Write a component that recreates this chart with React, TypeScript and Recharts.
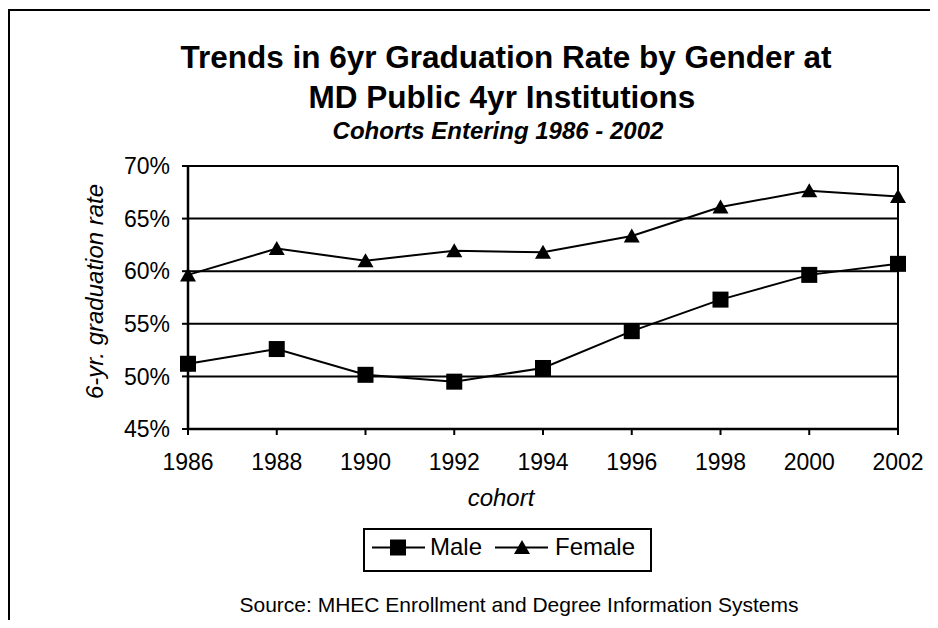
import React from 'react';
import { LineChart, Line, XAxis, YAxis, CartesianGrid, ReferenceLine, Legend, Label } from 'recharts';

const years = [1986, 1988, 1990, 1992, 1994, 1996, 1998, 2000, 2002];
const maleRates = [51.2, 52.6, 50.15, 49.5, 50.8, 54.3, 57.3, 59.65, 60.7];
const femaleRates = [59.65, 62.15, 61.0, 61.95, 61.8, 63.35, 66.1, 67.65, 67.1];
const yTicks = [45, 50, 55, 60, 65, 70];

const data = years.map((year, i) => ({ year, male: maleRates[i], female: femaleRates[i] }));

const FONT = '"Liberation Sans", Arial, Helvetica, sans-serif';

const SquareDot = (props: any) => {
  const { cx, cy, index } = props;
  if (cx == null || cy == null) return <g key={`s${index}`} />;
  return <rect key={`s${index}`} x={cx - 8} y={cy - 8} width={16} height={16} fill="#000" />;
};

const TriangleDot = (props: any) => {
  const { cx, cy, index } = props;
  if (cx == null || cy == null) return <g key={`t${index}`} />;
  return (
    <polygon
      key={`t${index}`}
      points={`${cx},${cy - 7.5} ${cx - 8},${cy + 6.5} ${cx + 8},${cy + 6.5}`}
      fill="#000"
    />
  );
};

const LegendBox = () => (
  <svg width={289} height={44} style={{ display: 'block' }}>
    <rect x={1} y={1} width={287} height={42} fill="#fff" stroke="#000" strokeWidth={2} />
    <line x1={9} y1={19.5} x2={62} y2={19.5} stroke="#000" strokeWidth={2} />
    <rect x={27} y={11.5} width={16} height={16} fill="#000" />
    <text x={67} y={27} fontFamily={FONT} fontSize={24} fill="#000">Male</text>
    <line x1={132} y1={19.5} x2={185} y2={19.5} stroke="#000" strokeWidth={2} />
    <polygon points="159,12 151,26 167,26" fill="#000" />
    <text x={192} y={27} fontFamily={FONT} fontSize={24} fill="#000">Female</text>
  </svg>
);

export default function App() {
  return (
    <div style={{ position: 'relative', width: 930, height: 612, overflow: 'hidden', background: '#fff', fontFamily: FONT }}>
      <div
        style={{
          position: 'absolute', left: 0, top: 1, width: 1000, height: 700,
          borderLeft: '2px solid #000', borderTop: '2px solid #000', boxSizing: 'border-box',
        }}
      />
      <div
        style={{
          position: 'absolute', left: 94, width: 800, top: 29, textAlign: 'center',
          fontSize: 31.5, fontWeight: 'bold', lineHeight: '40px', color: '#000',
        }}
      >
        <div style={{ paddingLeft: 8 }}>Trends in 6yr Graduation Rate by Gender at</div>
        <div>MD Public 4yr Institutions</div>
      </div>
      <div
        style={{
          position: 'absolute', left: 90, width: 800, top: 108, textAlign: 'center',
          fontSize: 24, fontWeight: 'bold', fontStyle: 'italic', lineHeight: '30px', color: '#000',
        }}
      >
        Cohorts Entering 1986 - 2002
      </div>
      <div
        style={{
          position: 'absolute', left: 111, width: 800, top: 583, textAlign: 'center',
          fontSize: 21, lineHeight: '28px', color: '#000',
        }}
      >
        Source: MHEC Enrollment and Degree Information Systems
      </div>
      <div style={{ position: 'absolute', left: 0, top: 0 }}>
        <LineChart width={930} height={612} data={data} margin={{ top: 158, right: 40, left: 0, bottom: 131 }}>
          <CartesianGrid vertical={false} stroke="#000" strokeWidth={2} />
          <XAxis
            dataKey="year"
            interval={0}
            padding={{ left: 0, right: 0 }}
            height={60}
            tickSize={6}
            tickMargin={19}
            axisLine={{ stroke: '#000', strokeWidth: 2.5 }}
            tickLine={{ stroke: '#000', strokeWidth: 2 }}
            tick={{ fill: '#000', fontSize: 23, fontFamily: FONT }}
          >
            <Label
              content={() => (
                <text x={493} y={498} textAnchor="middle" fontFamily={FONT} fontSize={24} fontStyle="italic" fill="#000">
                  cohort
                </text>
              )}
            />
          </XAxis>
          <YAxis
            width={180}
            domain={[45, 70]}
            ticks={yTicks}
            interval={0}
            tickSize={6}
            tickMargin={12}
            tickFormatter={(v: number) => `${v}%`}
            axisLine={{ stroke: '#000', strokeWidth: 2.5 }}
            tickLine={{ stroke: '#000', strokeWidth: 2 }}
            tick={{ fill: '#000', fontSize: 23, fontFamily: FONT }}
          >
            <Label
              content={() => (
                <text
                  x={95}
                  y={283.5}
                  transform="rotate(-90 95 283.5)"
                  textAnchor="middle"
                  fontFamily={FONT}
                  fontSize={24}
                  fontStyle="italic"
                  fill="#000"
                >
                  6-yr. graduation rate
                </text>
              )}
            />
          </YAxis>
          <ReferenceLine x={2002} stroke="#000" strokeWidth={2} />
          <Legend
            layout="horizontal"
            verticalAlign="middle"
            align="center"
            content={() => <LegendBox />}
            wrapperStyle={{ left: 355, top: 520, width: 289, height: 44 }}
          />
          <Line
            type="linear"
            dataKey="male"
            name="Male"
            stroke="#000"
            strokeWidth={2}
            dot={SquareDot}
            activeDot={false}
            isAnimationActive={false}
          />
          <Line
            type="linear"
            dataKey="female"
            name="Female"
            stroke="#000"
            strokeWidth={2}
            dot={TriangleDot}
            activeDot={false}
            isAnimationActive={false}
          />
        </LineChart>
      </div>
    </div>
  );
}
